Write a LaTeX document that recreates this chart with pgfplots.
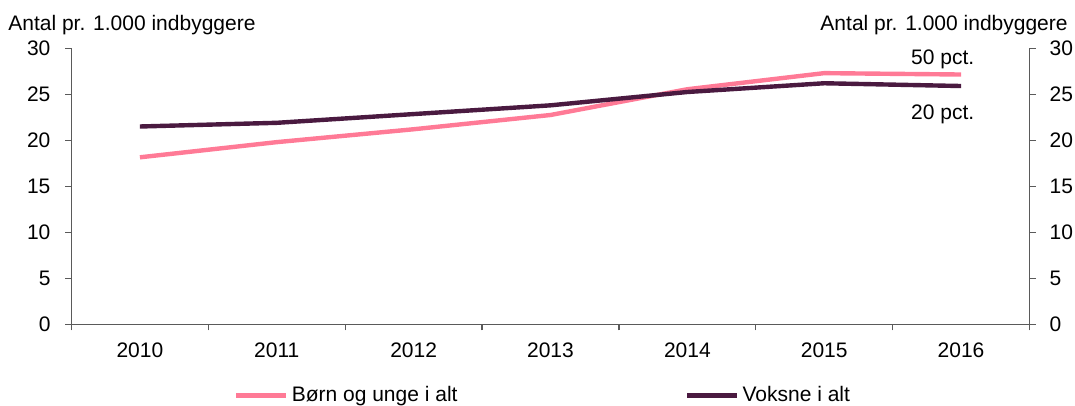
\documentclass[border=0pt]{standalone}
\usepackage{pgfplots}
\pgfplotsset{compat=1.18}
\usepackage{fontspec}
\setmainfont{Liberation Sans}
\definecolor{pinkc}{RGB}{255,122,150}
\definecolor{plumc}{RGB}{74,26,64}
\definecolor{axc}{RGB}{90,90,90}
\begin{document}
\begin{tikzpicture}[font=\fontsize{10.5}{12}\selectfont]
\useasboundingbox (-35.75pt,-40.85pt) rectangle (501.75pt,162.15pt);
\pgfplotsset{
  common/.style={
    scale only axis, width=479pt, height=138pt,
    at={(0,0)}, anchor=south west,
    xmin=-0.5, xmax=6.5, ymin=0, ymax=30,
    ytick={0,5,...,30},
    tick align=outside, major tick length=3pt,
    tick style={draw=axc, line width=0.6pt},
    axis line style={draw=axc, line width=0.6pt},
    /pgf/number format/assume math mode=true,
    tick label style={font=\fontsize{10.5}{12}\selectfont},
  }
}
\begin{axis}[common,
  axis x line*=bottom, axis y line*=left,
  xtick={-0.5,0.5,...,6.5}, xticklabels={},
  extra x ticks={0,1,2,3,4,5,6},
  extra x tick labels={2010,2011,2012,2013,2014,2015,2016},
  extra x tick style={major tick length=0pt, xticklabel style={yshift=-5.5pt}},
  yticklabel style={xshift=-4pt},
  legend columns=2,
  legend style={draw=none, fill=none, inner sep=0pt, at={(0.1690,-0.2587)}, anchor=west,
    nodes={inner sep=1.5pt}, font=\fontsize{10.5}{12}\selectfont,
    /tikz/every even column/.append style={column sep=112pt}},
  legend cell align=left,
  legend image code/.code={\draw[#1, line width=2.5pt] (0pt,0pt) -- (25pt,0pt);},
]
\addplot[pinkc, line width=2.2pt] coordinates {(0,18.15) (1,19.8) (2,21.2) (3,22.75) (4,25.55) (5,27.3) (6,27.15)};
\addlegendentry{Børn og unge i alt}
\addplot[plumc, line width=2.2pt] coordinates {(0,21.5) (1,21.9) (2,22.85) (3,23.8) (4,25.25) (5,26.2) (6,25.9)};
\addlegendentry{Voksne i alt}
\node[anchor=base, inner sep=0pt] at (axis cs:5.866,28.29) {50 pct.};
\node[anchor=base, inner sep=0pt] at (axis cs:5.866,22.28) {20 pct.};
\end{axis}
\begin{axis}[common,
  axis x line=none, axis y line*=right,
  yticklabel style={xshift=3.5pt},
]
\end{axis}
\node[anchor=base west, inner sep=0pt] at (-31.75pt,146.65pt) {Antal pr. 1.000 indbyggere};
\node[anchor=base east, inner sep=0pt] at (498.25pt,146.65pt) {Antal pr. 1.000 indbyggere};
\end{tikzpicture}
\end{document}
